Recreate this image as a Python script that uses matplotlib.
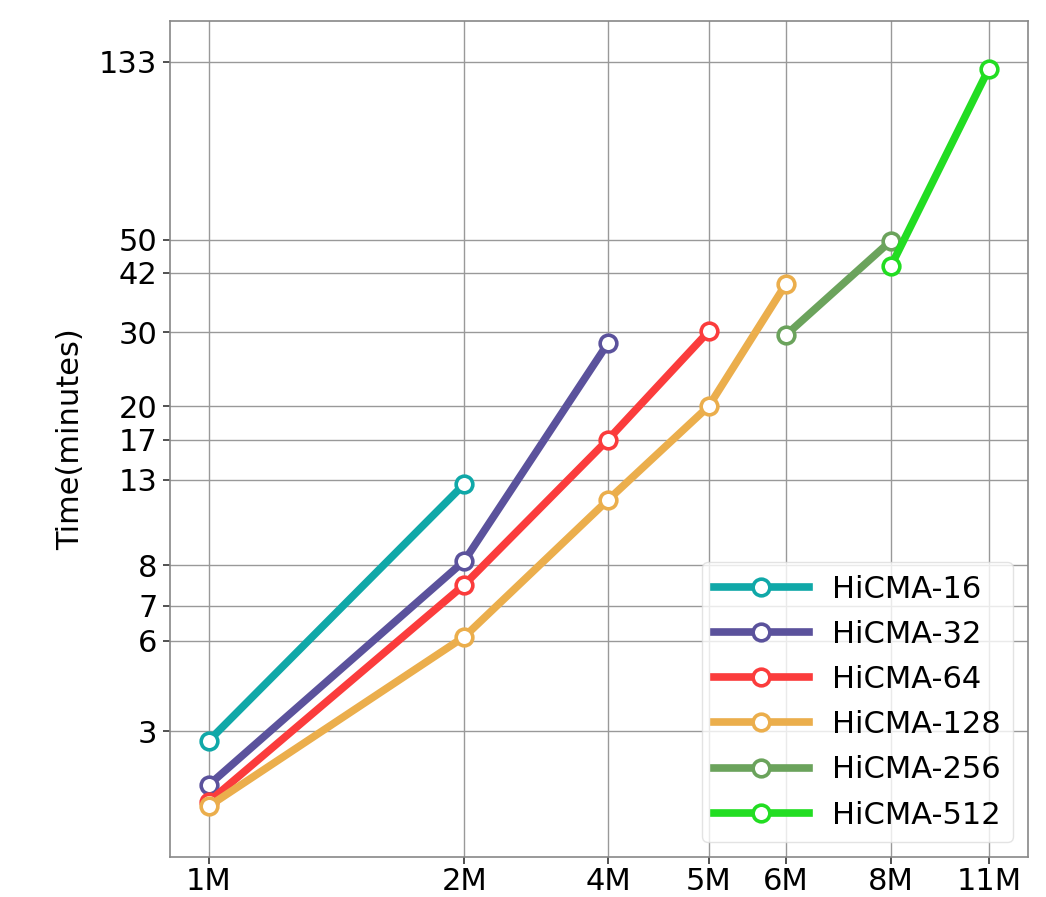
import numpy as np
import matplotlib
matplotlib.use("Agg")
import matplotlib.pyplot as plt

# matrix sizes (millions) and run times (minutes) per configuration
x_ticks = [1, 2, 4, 5, 6, 8, 11]
x_labels = ["1M", "2M", "4M", "5M", "6M", "8M", "11M"]
y_ticks = [3, 6, 7, 8, 13, 17, 20, 30, 42, 50, 133]

names = ["HiCMA-16", "HiCMA-32", "HiCMA-64", "HiCMA-128", "HiCMA-256", "HiCMA-512"]
sizes = [
    [1, 2],
    [1, 2, 4],
    [1, 2, 4, 5],
    [1, 2, 4, 5, 6],
    [6, 8],
    [8, 11],
]
times = [
    [2.84, 12.7],
    [2.21, 8.2, 28.3],
    [2.01, 7.5, 17.0, 30.2],
    [1.96, 6.1, 11.6, 20.0, 39.5],
    [29.6, 49.8],
    [43.6, 128.0],
]
colors = ["#10a8a8", "#5b529c", "#fb3c3c", "#ebae4c", "#6ba35c", "#22dd22"]

# irregular axis spacing, piecewise on log values
x_knots = np.log10([0.5] + x_ticks + [20])
x_place = np.array([-46.9, 208.7, 464.3, 608.0, 708.7, 786.0, 891.0, 988.7, 1172.0])
y_knots = np.log10([1] + y_ticks + [1000])
y_place = -np.array([924.7, 731.0, 640.3, 605.3, 565.0, 479.7, 439.3, 406.0,
                     332.3, 272.7, 239.7, 61.7, -294.0])


def x_fwd(v):
    return np.interp(np.log10(np.clip(v, 1e-3, None)), x_knots, x_place)


def x_inv(p):
    return 10 ** np.interp(p, x_place, x_knots)


def y_fwd(v):
    return np.interp(np.log10(np.clip(v, 1e-3, None)), y_knots, y_place)


def y_inv(p):
    return 10 ** np.interp(p, y_place, y_knots)


fig = plt.figure(figsize=(10.46, 8.97), dpi=100)
ax = fig.add_axes([170 / 1046, 40 / 897, 858 / 1046, 836 / 897])
ax.set_xscale("function", functions=(x_fwd, x_inv))
ax.set_yscale("function", functions=(y_fwd, y_inv))

for n, xs, ys, c in zip(names, sizes, times, colors):
    ax.plot(xs, ys, color=c, lw=5.5, marker="o", markersize=12,
            markerfacecolor="white", markeredgecolor=c, markeredgewidth=2.6,
            label=n, zorder=3)

ax.set_xlim(0.9004, 12.5)
ax.set_ylim(1.47, 167.7)
ax.set_xticks(x_ticks)
ax.set_xticklabels(x_labels)
ax.set_yticks(y_ticks)
ax.set_yticklabels([str(t) for t in y_ticks])
ax.minorticks_off()
ax.tick_params(labelsize=22, color="#333333", length=5, width=1.2, pad=4)
ax.tick_params(axis="x", pad=2)
ax.grid(True, color="#999999", lw=1)
ax.set_axisbelow(True)
for s in ax.spines.values():
    s.set_color("#888888")
    s.set_linewidth(1.2)

ax.set_ylabel("Time(minutes)", fontsize=22, labelpad=10)

ax.legend(loc="lower right", fontsize=22, handlelength=3.1, borderpad=0.4,
          labelspacing=0.53, handletextpad=0.75, framealpha=0.8,
          edgecolor="#dddddd", bbox_to_anchor=(1.0, 0.0))

fig.savefig("out.png", dpi=100)
